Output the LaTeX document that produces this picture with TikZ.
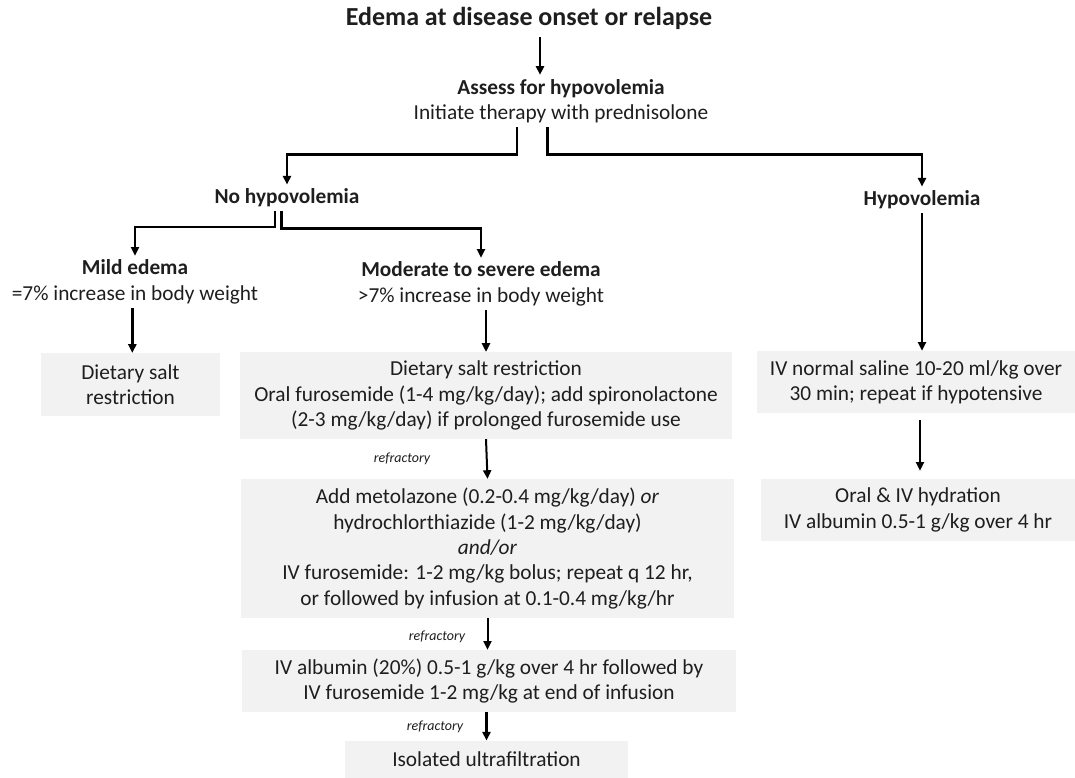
\documentclass[tikz,border=0pt]{standalone}
\usepackage{fontspec}
\setmainfont{Carlito}
\usetikzlibrary{positioning,arrows.meta}

\definecolor{boxgrey}{RGB}{242,242,242}
\definecolor{inkgrey}{RGB}{30,30,30}

\tikzset{
  txt/.style={align=center, inner sep=3pt, text=inkgrey, font=\fontsize{16}{19}\selectfont},
  head/.style={txt, font=\bfseries\fontsize{16}{19}\selectfont},
  greybox/.style={txt, fill=boxgrey, inner sep=0pt},
  refr/.style={inner sep=1pt, text=inkgrey, font=\itshape\fontsize{10.5}{12}\selectfont},
  arr/.style={-{Triangle[width=6pt,length=6.5pt]}, line width=1.5pt},
  arrthick/.style={arr, line width=2.2pt}
}

\begin{document}
\begin{tikzpicture}[x=0.75pt, y=-0.75pt]
  \useasboundingbox (0,0) rectangle (1075,778);

  % top of the tree
  \node[head, font=\bfseries\fontsize{19.5}{22}\selectfont] (onset) at (529,18) {Edema at disease onset or relapse};
  \node[txt] (assess) at (561,101) {\textbf{Assess for hypovolemia}\\Initiate therapy with prednisolone};
  \node[head] (nohypo) at (287,198) {No hypovolemia};
  \node[head] (hypo) at (922,200) {Hypovolemia};

  % no hypovolemia branch
  \node[txt] (mild) at (135,282) {\textbf{Mild edema}\\=7\% increase in body weight};
  \node[txt] (moderate) at (481,284) {\textbf{Moderate to severe edema}\\>7\% increase in body weight};

  \node[greybox, minimum width=134pt, minimum height=47pt] (saltonly) at (130.5,384.5)
    {Dietary salt\\restriction};
  \node[greybox, minimum width=369pt, minimum height=65pt] (oralfuro) at (486,395.5)
    {Dietary salt restriction\\Oral furosemide (1-4 mg/kg/day); add spironolactone\\(2-3 mg/kg/day) if prolonged furosemide use};
  \node[greybox, minimum width=370pt, minimum height=104pt] (metolazone) at (487.5,548.5)
    {Add metolazone (0.2-0.4 mg/kg/day) \textit{or}\\hydrochlorthiazide (1-2 mg/kg/day)\\\textit{and/or}\\IV furosemide: 1-2 mg/kg bolus; repeat q 12 hr,\\or followed by infusion at 0.1-0.4 mg/kg/hr};
  \node[greybox, minimum width=370.5pt, minimum height=46.5pt] (albumin) at (489,681)
    {IV albumin (20\%) 0.5-1 g/kg over 4 hr followed by\\IV furosemide 1-2 mg/kg at end of infusion};
  \node[greybox, minimum width=212pt, minimum height=28pt] (ultra) at (486.5,759.5)
    {Isolated ultrafiltration};

  \node[refr] (refr1) at (402,459) {refractory};
  \node[refr] (refr2) at (437,637) {refractory};
  \node[refr] (refr3) at (435,727) {refractory};

  % hypovolemia branch
  \node[greybox, minimum width=238.5pt, minimum height=46.5pt] (saline) at (916,382)
    {IV normal saline 10-20 ml/kg over\\30 min; repeat if hypotensive};
  \node[greybox, minimum width=235.5pt, minimum height=46.5pt] (hydration) at (918,510)
    {Oral \& IV hydration\\IV albumin 0.5-1 g/kg over 4 hr};

  % connectors
  \draw[arr] ([xshift=8.25pt,yshift=-3pt]onset.south) -- ([xshift=8.25pt]onset.south |- assess.north);
  \draw[arrthick] ([xshift=-33pt]assess.south) -- ++(0,27) -| (nohypo.north);
  \draw[arrthick] ([xshift=-10pt]assess.south) -- ++(0,27) -| (hypo.north);
  \draw[arr] ([xshift=-9pt]nohypo.south) -- ++(0,16) -| (mild.north);
  \draw[arrthick] ([xshift=-4pt]nohypo.south) -- ++(0,17) -| (moderate.north);
  \draw[arrthick] ([xshift=-2pt]mild.south) -- ([xshift=-2pt]mild.south |- saltonly.north);
  \draw[arr] (moderate.south -| oralfuro.north) -- (oralfuro.north);
  \draw[arr] (oralfuro.south) -- (metolazone.north);
  \draw[arr] (metolazone.south) -- (metolazone.south |- albumin.north);
  \draw[arrthick] (albumin.south -| ultra.north) -- (ultra.north);
  \draw[arrthick] (hypo.south) -- (hypo.south |- saline.north);
  \draw[arr, shorten <=5pt, shorten >=6pt] ([xshift=3pt]saline.south) -- ([xshift=3pt]saline.south |- hydration.north);
\end{tikzpicture}
\end{document}
